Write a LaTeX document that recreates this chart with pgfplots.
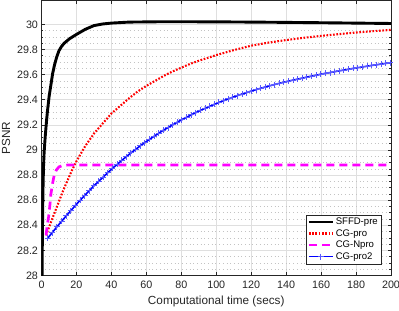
\documentclass[border=0pt]{standalone}
\usepackage{fontspec}
\setmainfont{Liberation Sans}
\usepackage{pgfplots}
\pgfplotsset{compat=1.18}
\definecolor{axgray}{RGB}{38,38,38}
\definecolor{majgrid}{RGB}{223,223,223}
\definecolor{mingrid}{RGB}{195,195,195}
\definecolor{mag}{RGB}{255,0,255}
\definecolor{pure blue}{RGB}{0,0,255}
\definecolor{pure red}{RGB}{255,0,0}
\begin{document}
\begin{tikzpicture}
\begin{axis}[
  scale only axis,
  width=349.5bp, height=275bp,
  xmin=0, xmax=200, ymin=28, ymax=30.19,
  xtick={0,20,...,200},
  ytick={28,28.2,28.4,28.6,28.8,29,29.2,29.4,29.6,29.8,30},
  minor y tick num=3,
  minor x tick num=0,
  xmajorgrids=true, ymajorgrids=true, xminorgrids=false, yminorgrids=true,
  major grid style={majgrid, line width=0.6bp},
  minor grid style={mingrid, line width=0.45bp, dash pattern=on 0.7bp off 3bp},
  tick align=inside,
  major tick length=3.5bp, minor tick length=2bp,
  axis line style={axgray, line width=0.6bp},
  every tick/.style={axgray, line width=0.5bp},
  tick label style={font=\fontsize{10.8}{12}\selectfont, text=axgray},
  xticklabel style={yshift=-1.5bp},
  label style={font=\fontsize{11.8}{13}\selectfont, text=axgray},
  xlabel style={yshift=-1.5bp},
  /pgf/number format/assume math mode=true,
  xlabel={Computational time (secs)},
  ylabel={PSNR},
  legend style={at={(0.9714,0.0418)}, anchor=south east, font=\fontsize{9.6}{11}\selectfont, draw=axgray, line width=0.5bp, inner sep=1.5bp, row sep=0.4bp, cells={anchor=west}, nodes={inner sep=1.5bp}},
  legend image code/.code={\draw[mark repeat=2,mark phase=2,#1] plot coordinates {(0bp,0bp) (12bp,0bp) (24bp,0bp)};},
]
\addplot[black, line width=2.9bp] coordinates {
(0.25,27.9) (0.5,28.3) (0.8,28.65) (1.1,28.85) (1.5,28.98) (2.2,29.12) (3.0,29.25) (3.5,29.32) (4.4,29.43) (5.4,29.52) (6.4,29.61) (7.5,29.68) (8.7,29.74) (10,29.79) (11.5,29.825) (13,29.85) (16,29.885) (20,29.92) (25,29.96) (30,29.99) (35,30.003) (40,30.01) (50,30.018) (70,30.021) (100,30.02) (130,30.017) (160,30.013) (200,30.007)
};
\addlegendentry{SFFD-pre}
\addplot[pure red, line width=2.1bp, dash pattern=on 1.7bp off 1.6bp] coordinates {
(2.6,28.32) (5,28.41) (7.5,28.50) (10,28.59) (12.5,28.68) (15,28.76) (17.5,28.84) (20,28.91) (22.5,28.97) (25,29.03) (27.5,29.08) (30,29.13) (35,29.21) (40,29.29) (45,29.35) (50,29.41) (55,29.465) (60,29.51) (65,29.55) (70,29.59) (75,29.625) (80,29.655) (85,29.685) (90,29.71) (100,29.755) (110,29.795) (120,29.83) (130,29.855) (140,29.875) (150,29.893) (160,29.908) (170,29.922) (180,29.935) (190,29.946) (200,29.956)
};
\addlegendentry{CG-pro}
\addplot[mag, line width=2.7bp, dash pattern=on 8bp off 5bp] coordinates {
(2.6,28.32) (3.3,28.40) (4.1,28.47) (4.8,28.56) (5.4,28.65) (6.3,28.73) (7.3,28.80) (8.5,28.84) (10,28.865) (12,28.875) (15,28.88) (200,28.88)
};
\addlegendentry{CG-Npro}
\addplot[pure blue, line width=1.6bp, mark=+, mark size=3bp, mark options={solid, pure blue!65, line width=1bp}] coordinates {
(3.5,28.296) (6.15,28.342) (8.8,28.387) (11.45,28.431) (14.1,28.474) (16.75,28.516) (19.4,28.558) (22.05,28.598) (24.7,28.637) (27.35,28.675) (30.0,28.714) (32.65,28.749) (35.3,28.784) (37.95,28.819) (40.6,28.853) (43.25,28.884) (45.9,28.916) (48.55,28.947) (51.2,28.976) (53.85,29.004) (56.5,29.032) (59.15,29.059) (61.8,29.084) (64.45,29.109) (67.1,29.133) (69.75,29.157) (72.4,29.178) (75.05,29.199) (77.7,29.221) (80.35,29.241) (83.0,29.260) (85.65,29.279) (88.3,29.297) (90.95,29.315) (93.6,29.331) (96.25,29.347) (98.9,29.363) (101.55,29.378) (104.2,29.392) (106.85,29.406) (109.5,29.420) (112.15,29.433) (114.8,29.445) (117.45,29.457) (120.1,29.469) (122.75,29.480) (125.4,29.491) (128.05,29.501) (130.7,29.511) (133.35,29.521) (136.0,29.530) (138.65,29.539) (141.3,29.548) (143.95,29.556) (146.6,29.564) (149.25,29.572) (151.9,29.580) (154.55,29.588) (157.2,29.595) (159.85,29.603) (162.5,29.610) (165.15,29.616) (167.8,29.623) (170.45,29.630) (173.1,29.636) (175.75,29.643) (178.4,29.649) (181.05,29.655) (183.7,29.661) (186.35,29.667) (189.0,29.673) (191.65,29.678) (194.3,29.684) (196.95,29.689) (199.6,29.694)
};
\addlegendentry{CG-pro2}
\end{axis}
\pgfresetboundingbox
\path[use as bounding box] ([xshift=-41.5bp,yshift=-35.5bp]current axis.south west) rectangle ([xshift=8bp,yshift=0.5bp]current axis.north east);
\end{tikzpicture}
\end{document}
